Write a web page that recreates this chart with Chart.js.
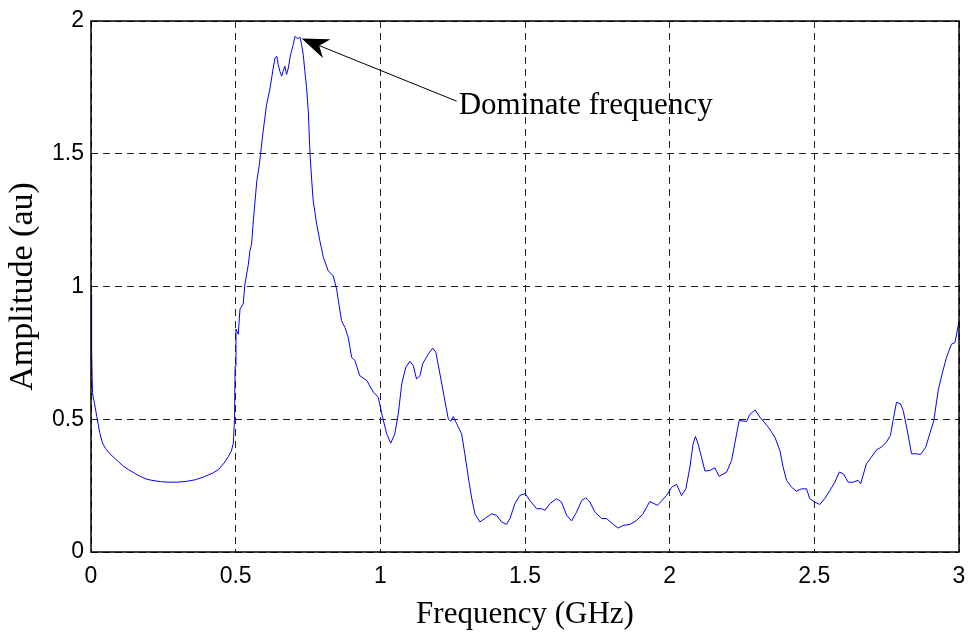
<!DOCTYPE html>
<html lang="en">
<head>
    <meta charset="UTF-8">
    <title>Amplitude spectrum</title>
    <script src="https://cdn.jsdelivr.net/npm/chart.js"></script>
    <style>
        body { margin: 0; background: #fff; }
    </style>
</head>
<body>
    <canvas id="spectrumChart" width="970" height="637"></canvas>
    <script>
        // frequency samples (GHz) and amplitude (au)
        const freq = [
            0.000, 0.002, 0.005, 0.012, 0.020, 0.030, 0.040, 0.050, 0.065, 0.080,
            0.095, 0.110, 0.130, 0.150, 0.170, 0.190, 0.210, 0.240, 0.270, 0.300,
            0.330, 0.360, 0.390, 0.420, 0.440, 0.460, 0.475, 0.485, 0.492, 0.496,
            0.498, 0.501, 0.509, 0.515, 0.526, 0.532, 0.544, 0.549, 0.555, 0.561,
            0.567, 0.573, 0.582, 0.586, 0.595, 0.607, 0.619, 0.628, 0.636, 0.642,
            0.647, 0.653, 0.659, 0.664, 0.670, 0.676, 0.682, 0.690, 0.699, 0.705,
            0.713, 0.722, 0.728, 0.734, 0.739, 0.745, 0.751, 0.757, 0.763, 0.768,
            0.780, 0.791, 0.803, 0.820, 0.837, 0.849, 0.855, 0.866, 0.878, 0.889,
            0.901, 0.912, 0.929, 0.953, 0.976, 0.993, 1.005, 1.022, 1.036, 1.050,
            1.062, 1.074, 1.088, 1.102, 1.114, 1.125, 1.137, 1.146, 1.166, 1.181,
            1.192, 1.206, 1.223, 1.235, 1.243, 1.252, 1.264, 1.281, 1.292, 1.304,
            1.315, 1.327, 1.344, 1.361, 1.385, 1.402, 1.419, 1.436, 1.448, 1.465,
            1.482, 1.500, 1.517, 1.540, 1.557, 1.569, 1.586, 1.609, 1.626, 1.644,
            1.661, 1.678, 1.696, 1.710, 1.724, 1.742, 1.765, 1.782, 1.805, 1.822,
            1.839, 1.863, 1.886, 1.908, 1.931, 1.958, 1.989, 2.007, 2.024, 2.041,
            2.056, 2.070, 2.081, 2.089, 2.098, 2.110, 2.122, 2.139, 2.156, 2.171,
            2.197, 2.214, 2.225, 2.240, 2.266, 2.277, 2.295, 2.312, 2.341, 2.364,
            2.381, 2.392, 2.404, 2.421, 2.438, 2.456, 2.473, 2.484, 2.502, 2.519,
            2.536, 2.554, 2.571, 2.586, 2.600, 2.617, 2.634, 2.651, 2.660, 2.680,
            2.697, 2.715, 2.732, 2.749, 2.763, 2.772, 2.784, 2.798, 2.807, 2.819,
            2.836, 2.853, 2.867, 2.885, 2.899, 2.913, 2.928, 2.943, 2.957, 2.974,
            2.986, 2.994, 3.000
        ];
        const amplitude = [
            0.970, 0.770, 0.600, 0.560, 0.510, 0.450, 0.410, 0.390, 0.370, 0.355,
            0.340, 0.325, 0.310, 0.297, 0.285, 0.275, 0.270, 0.265, 0.263, 0.263,
            0.266, 0.272, 0.283, 0.297, 0.310, 0.335, 0.360, 0.380, 0.410, 0.500,
            0.700, 0.840, 0.820, 0.915, 0.934, 1.009, 1.084, 1.134, 1.159, 1.247,
            1.322, 1.397, 1.460, 1.498, 1.585, 1.686, 1.748, 1.811, 1.861, 1.867,
            1.836, 1.810, 1.792, 1.810, 1.830, 1.799, 1.823, 1.874, 1.911, 1.942,
            1.934, 1.939, 1.911, 1.870, 1.811, 1.750, 1.660, 1.498, 1.397, 1.322,
            1.235, 1.172, 1.110, 1.059, 1.040, 0.990, 0.946, 0.871, 0.845, 0.808,
            0.733, 0.721, 0.664, 0.646, 0.602, 0.583, 0.520, 0.445, 0.410, 0.445,
            0.520, 0.633, 0.696, 0.718, 0.702, 0.652, 0.664, 0.708, 0.746, 0.768,
            0.752, 0.671, 0.570, 0.501, 0.492, 0.510, 0.483, 0.445, 0.370, 0.282,
            0.207, 0.144, 0.113, 0.126, 0.144, 0.138, 0.113, 0.104, 0.126, 0.182,
            0.213, 0.220, 0.194, 0.163, 0.163, 0.157, 0.182, 0.201, 0.188, 0.138,
            0.117, 0.150, 0.194, 0.204, 0.188, 0.150, 0.126, 0.126, 0.104, 0.090,
            0.100, 0.104, 0.119, 0.144, 0.190, 0.176, 0.213, 0.244, 0.255, 0.213,
            0.238, 0.320, 0.408, 0.435, 0.408, 0.357, 0.305, 0.307, 0.317, 0.285,
            0.301, 0.345, 0.408, 0.495, 0.492, 0.518, 0.535, 0.508, 0.470, 0.432,
            0.382, 0.320, 0.270, 0.244, 0.229, 0.238, 0.238, 0.201, 0.188, 0.179,
            0.201, 0.232, 0.263, 0.301, 0.295, 0.263, 0.263, 0.270, 0.257, 0.332,
            0.357, 0.385, 0.395, 0.414, 0.439, 0.495, 0.564, 0.558, 0.533, 0.470,
            0.370, 0.370, 0.367, 0.395, 0.445, 0.495, 0.608, 0.677, 0.733, 0.783,
            0.789, 0.833, 0.871
        ];

        const xTitle = 'Frequency (GHz)';
        const yTitle = 'Amplitude (au)';

        // annotation: text and arrow end points in data units
        const noteText = 'Dominate frequency';
        const arrowTip = [0.728, 1.934];
        const arrowTail = [1.264, 1.698];

        const points = freq.map((f, i) => ({ x: f, y: amplitude[i] }));

        // solid box like a matlab figure, plus the arrow label
        const matlabPlugin = {
            id: 'matlabBits',
            afterDraw(chart) {
                const ctx = chart.ctx;
                const a = chart.chartArea;
                const xs = chart.scales.x;
                const ys = chart.scales.y;

                ctx.save();
                ctx.strokeStyle = '#000';
                ctx.lineWidth = 1.5;
                ctx.strokeRect(a.left, a.top, a.right - a.left, a.bottom - a.top);

                // arrow
                const tx = xs.getPixelForValue(arrowTip[0]);
                const ty = ys.getPixelForValue(arrowTip[1]);
                const sx = xs.getPixelForValue(arrowTail[0]);
                const sy = ys.getPixelForValue(arrowTail[1]);
                const len = Math.hypot(sx - tx, sy - ty);
                const ux = (sx - tx) / len, uy = (sy - ty) / len;
                const px = -uy, py = ux;
                const headLen = 27, headW = 10, notch = 19;

                ctx.lineWidth = 1;
                ctx.beginPath();
                ctx.moveTo(sx, sy);
                ctx.lineTo(tx + ux * notch, ty + uy * notch);
                ctx.stroke();

                ctx.fillStyle = '#000';
                ctx.beginPath();
                ctx.moveTo(tx, ty);
                ctx.lineTo(tx + ux * headLen + px * headW, ty + uy * headLen + py * headW);
                ctx.lineTo(tx + ux * notch, ty + uy * notch);
                ctx.lineTo(tx + ux * headLen - px * headW, ty + uy * headLen - py * headW);
                ctx.closePath();
                ctx.fill();

                ctx.font = '31px "Liberation Serif", "Times New Roman", serif';
                ctx.textAlign = 'left';
                ctx.textBaseline = 'alphabetic';
                ctx.fillText(noteText, sx + 2, sy + 13);
                ctx.restore();
            }
        };

        const tickFont = { family: '"Liberation Sans", Arial, sans-serif', size: 23 };
        const titleFont = { family: '"Liberation Serif", "Times New Roman", serif' };
        const plainLabel = (value) => String(value);

        new Chart(document.getElementById('spectrumChart'), {
            type: 'scatter',
            data: {
                datasets: [{
                    data: points,
                    showLine: true,
                    borderColor: '#0000ff',
                    borderWidth: 1,
                    pointRadius: 0,
                    tension: 0,
                    fill: false
                }]
            },
            options: {
                responsive: false,
                animation: false,
                events: [],
                layout: { padding: { top: 21, right: 11, left: 0, bottom: 0 } },
                plugins: {
                    legend: { display: false },
                    tooltip: { enabled: false }
                },
                scales: {
                    x: {
                        type: 'linear',
                        min: 0,
                        max: 3,
                        afterFit: (scale) => {
                            scale.height = 85;
                            scale.paddingLeft = 0;
                            scale.paddingRight = 0;
                        },
                        ticks: { stepSize: 0.5, color: '#000', font: tickFont, padding: 11, maxRotation: 0, callback: plainLabel },
                        grid: { color: '#222', lineWidth: 1, drawTicks: false },
                        border: { display: false, dash: [7, 5] },
                        title: {
                            display: true,
                            text: xTitle,
                            color: '#000',
                            font: { ...titleFont, size: 31 },
                            padding: { top: 0, bottom: 4 }
                        }
                    },
                    y: {
                        min: 0,
                        max: 2,
                        afterFit: (scale) => {
                            scale.width = 91;
                            scale.paddingTop = 0;
                            scale.paddingBottom = 0;
                        },
                        ticks: { stepSize: 0.5, color: '#000', font: tickFont, padding: 7, callback: plainLabel },
                        grid: { color: '#222', lineWidth: 1, drawTicks: false },
                        border: { display: false, dash: [7, 5] },
                        title: {
                            display: true,
                            text: yTitle,
                            color: '#000',
                            font: { ...titleFont, size: 34 },
                            padding: { top: 3, bottom: 0 }
                        }
                    }
                }
            },
            plugins: [matlabPlugin]
        });
    </script>
</body>
</html>
